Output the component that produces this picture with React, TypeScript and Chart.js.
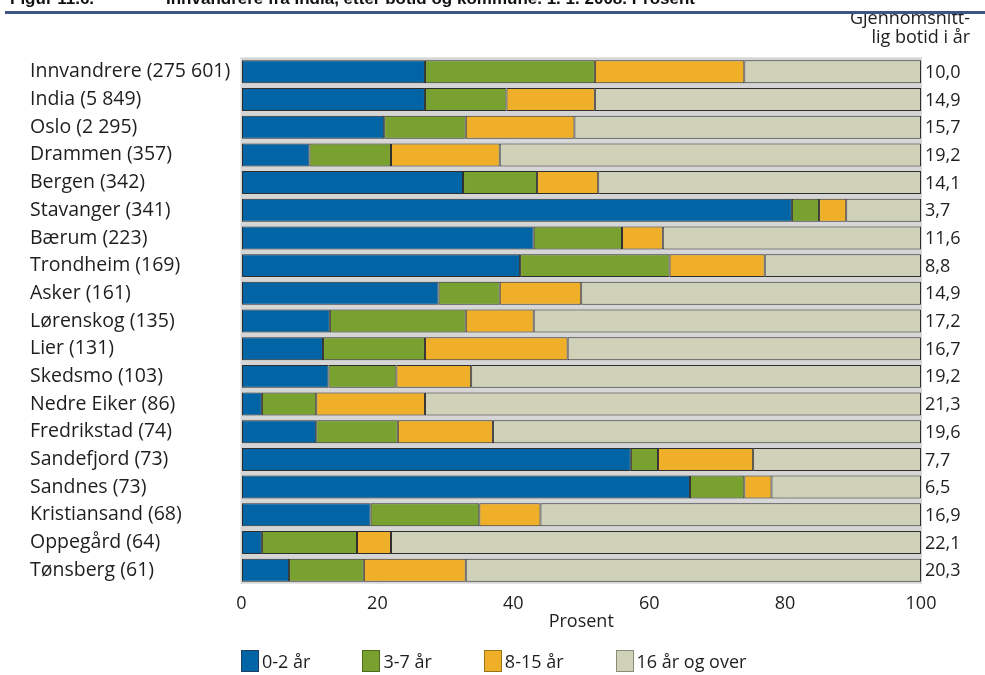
import React, { useEffect, useRef } from "react";
import { Chart, registerables } from "chart.js";

Chart.register(...registerables);

const categories = [
  "Innvandrere (275 601)",
  "India (5 849)",
  "Oslo (2 295)",
  "Drammen (357)",
  "Bergen (342)",
  "Stavanger (341)",
  "Bærum (223)",
  "Trondheim (169)",
  "Asker (161)",
  "Lørenskog (135)",
  "Lier (131)",
  "Skedsmo (103)",
  "Nedre Eiker (86)",
  "Fredrikstad (74)",
  "Sandefjord (73)",
  "Sandnes (73)",
  "Kristiansand (68)",
  "Oppegård (64)",
  "Tønsberg (61)",
];

const years0to2 = [27, 27, 21, 10, 32.6, 81, 43, 41, 29, 13, 12, 12.8, 3, 11, 57.3, 66, 19, 3, 7];
const years3to7 = [25, 12, 12, 12, 10.9, 4, 13, 22, 9, 20, 15, 10, 8, 12, 4, 8, 16, 14, 11];
const years8to15 = [22, 13, 16, 16, 9, 4, 6, 14, 12, 10, 21, 11, 16, 14, 14, 4, 9, 5, 15];
const years16plus = [26, 48, 51, 62, 47.5, 11, 38, 23, 50, 57, 52, 66.2, 73, 63, 24.7, 22, 56, 78, 67];

const avgBotid = [10.0, 14.9, 15.7, 19.2, 14.1, 3.7, 11.6, 8.8, 14.9, 17.2, 16.7, 19.2, 21.3, 19.6, 7.7, 6.5, 16.9, 22.1, 20.3];

const seriesLabels = ["0-2 år", "3-7 år", "8-15 år", "16 år og over"];
const seriesColors = ["#0064a5", "#79a12f", "#f0af29", "#cfd1b8"];
const seriesEdges = ["#1f3f66", "#4d6a1f", "#9c7418", "#8a8c7a"];
const xTicks = [0, 20, 40, 60, 80, 100];

const titleNumber = "Figur 11.6.";
const titleText = "Innvandrere fra India, etter botid og kommune. 1. 1. 2008. Prosent";
const rightHeader = ["Gjennomsnitt-", "lig botid i år"];
const xTitle = "Prosent";

const FONT = "'Open Sans', 'Noto Sans', sans-serif";
const TEXT = "#1e1e1e";

const haloPlugin = {
  id: "halo",
  beforeDatasetsDraw(chart: any) {
    const { ctx } = chart;
    const xs = chart.scales.x;
    const meta = chart.getDatasetMeta(0);
    ctx.save();
    ctx.fillStyle = "#d5d5d5";
    const x0 = xs.getPixelForValue(0) - 1;
    const x1 = xs.getPixelForValue(100) + 1;
    meta.data.forEach((el: any) => {
      const h = el.height;
      ctx.fillRect(x0, el.y - h / 2 - 3, x1 - x0, h + 5);
    });
    ctx.restore();
  },
};

const rightValuesPlugin = {
  id: "rightValues",
  afterDatasetsDraw(chart: any) {
    const { ctx, chartArea } = chart;
    const ys = chart.scales.y;
    ctx.save();
    ctx.font = `18px ${FONT}`;
    ctx.fillStyle = TEXT;
    ctx.textAlign = "left";
    ctx.textBaseline = "middle";
    avgBotid.forEach((v, i) => {
      ctx.fillText(v.toFixed(1).replace(".", ","), chartArea.right + 4, ys.getPixelForValue(i) + 1);
    });
    ctx.restore();
  },
};

export default function App() {
  const canvasRef = useRef<HTMLCanvasElement | null>(null);

  useEffect(() => {
    if (!canvasRef.current) return;
    const dataSets = [years0to2, years3to7, years8to15, years16plus];
    const chart = new Chart(canvasRef.current, {
      type: "bar",
      data: {
        labels: categories,
        datasets: dataSets.map((d, i) => ({
          label: seriesLabels[i],
          data: d,
          backgroundColor: seriesColors[i],
          borderColor: "#2e2e2e",
          borderWidth: 1,
          borderSkipped: false,
          barPercentage: 0.83,
          categoryPercentage: 1,
        })),
      },
      options: {
        indexAxis: "y",
        animation: false,
        responsive: false,
        devicePixelRatio: 1,
        layout: { padding: { top: 58, right: 64, bottom: 42, left: 30 } },
        plugins: {
          legend: { display: false },
          tooltip: { enabled: false },
        },
        scales: {
          x: {
            stacked: true,
            min: 0,
            max: 100,
            afterBuildTicks: (s: any) => {
              s.ticks = xTicks.map((v) => ({ value: v }));
            },
            afterFit: (s: any) => {
              s.height = 49;
            },
            ticks: {
              padding: 9,
              color: TEXT,
              font: { family: FONT, size: 18 },
              maxRotation: 0,
            },
            grid: { color: "#cccccc", drawTicks: false },
            border: { display: false },
            title: {
              display: true,
              text: xTitle,
              color: TEXT,
              font: { family: FONT, size: 18 },
              padding: { top: 0, bottom: 0 },
            },
          },
          y: {
            stacked: true,
            afterFit: (s: any) => {
              s.width = 211.5;
            },
            ticks: {
              padding: 8,
              crossAlign: "far",
              color: TEXT,
              font: { family: FONT, size: 19.5 },
            },
            grid: { display: false, drawTicks: false },
            border: { display: false },
          },
        },
      } as any,
      plugins: [haloPlugin, rightValuesPlugin],
    });
    return () => chart.destroy();
  }, []);

  return (
    <div
      style={{
        position: "fixed",
        left: 0,
        top: 0,
        width: 985,
        height: 675,
        background: "#fff",
        overflow: "hidden",
        fontFamily: FONT,
        color: TEXT,
      }}
    >
      <canvas ref={canvasRef} width={985} height={675} style={{ position: "absolute", left: 0, top: 0 }} />
      <div
        style={{
          position: "absolute",
          top: -10.5,
          left: 10,
          fontFamily: "'Liberation Sans', Arial, sans-serif",
          fontWeight: "bold",
          fontSize: 17,
          lineHeight: "17px",
          whiteSpace: "nowrap",
          color: "#111",
        }}
      >
        {titleNumber}
      </div>
      <div
        style={{
          position: "absolute",
          top: -10.5,
          left: 166,
          fontFamily: "'Liberation Sans', Arial, sans-serif",
          fontWeight: "bold",
          fontSize: 17,
          lineHeight: "17px",
          whiteSpace: "nowrap",
          color: "#111",
        }}
      >
        {titleText}
      </div>
      <div style={{ position: "absolute", top: 11, left: 5, width: 980, height: 3, background: "#3d5580" }} />
      <div style={{ position: "absolute", top: 14, right: 15, height: 40, overflow: "hidden" }}>
        <div style={{ marginTop: -6, textAlign: "right", fontSize: 18, lineHeight: "19px", whiteSpace: "nowrap" }}>
          {rightHeader.map((t) => (
            <div key={t}>{t}</div>
          ))}
        </div>
      </div>
      <div
        style={{
          position: "absolute",
          left: 241,
          top: 650,
          display: "flex",
          alignItems: "center",
          gap: 52,
          fontSize: 18,
          lineHeight: "22px",
        }}
      >
        {seriesLabels.map((l, i) => (
          <div key={l} style={{ display: "flex", alignItems: "center" }}>
            <span
              style={{
                display: "inline-block",
                width: 16,
                height: 20,
                background: seriesColors[i],
                border: `1px solid ${seriesEdges[i]}`,
                marginRight: 3,
              }}
            />
            <span>{l}</span>
          </div>
        ))}
      </div>
    </div>
  );
}
